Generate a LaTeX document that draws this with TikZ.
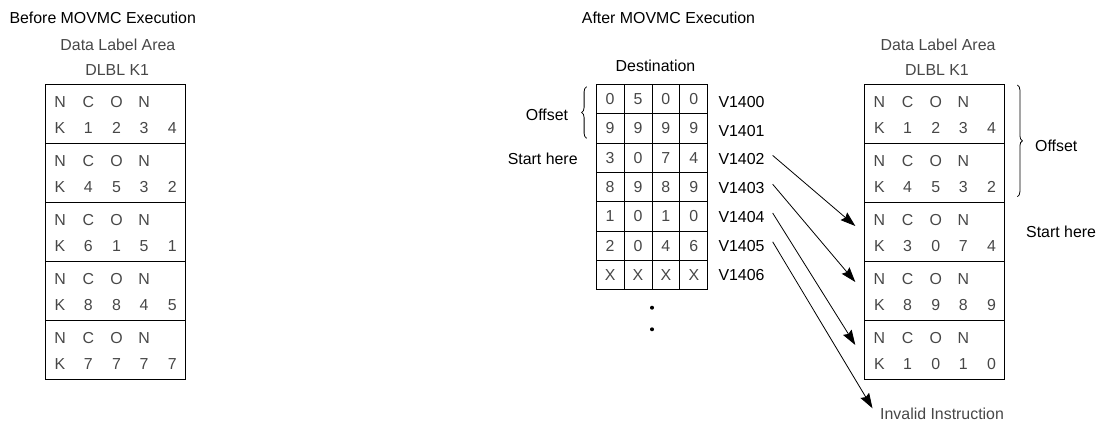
\documentclass[tikz,border=0pt]{standalone}
\usepackage{fontspec}
\setmainfont{Liberation Sans}
\usetikzlibrary{arrows.meta,decorations.pathreplacing}
\begin{document}
\begin{tikzpicture}[x=1pt,y=-1pt,
  every node/.style={inner sep=0pt, font=\fontsize{15.9}{19}\selectfont},
  lbl/.style={anchor=base, text=black},
  lblw/.style={anchor=base west, text=black},
  light/.style={anchor=base, text=black!72},
  lightw/.style={anchor=base west, text=black!72},
  blk/.style={draw, line width=1.1pt, minimum width=140pt, minimum height=59pt, anchor=north west},
  cell/.style={draw, line width=0.9pt, minimum width=27.9pt, minimum height=29.33pt, anchor=north west, text=black!72},
  arr/.style={line width=0.8pt, -{Stealth[length=15pt,width=10pt,inset=2pt]}},
  brc/.style={decorate, decoration={brace, amplitude=5pt}, line width=0.8pt}]
\useasboundingbox (0,0) rectangle (1103,421);

% titles
\node[lblw] (tbefore) at (9.3,23.5) {Before MOVMC Execution};
\node[lblw] (tafter) at (581.7,23.5) {After MOVMC Execution};

% left data label area
\node[light] (dlaL) at (117.9,50) {Data Label Area};
\node[light] (dlblL) at (117.2,75) {DLBL K1};
\foreach \i/\a/\b/\c/\d in {0/1/2/3/4, 1/4/5/3/2, 2/6/1/5/1, 3/8/8/4/5, 4/7/7/7/7} {
  \node[blk] (Lb\i) at (45,84+59*\i) {};
  \node[light] (L\i n1) at (60,84+59*\i+23.7) {N};
  \node[light] (L\i n2) at (88.3,84+59*\i+23.7) {C};
  \node[light] (L\i n3) at (116.5,84+59*\i+23.7) {O};
  \node[light] (L\i n4) at (144,84+59*\i+23.7) {N};
  \node[light] (L\i k0) at (60,84+59*\i+49.3) {K};
  \node[light] (L\i k1) at (88.3,84+59*\i+49.3) {\a};
  \node[light] (L\i k2) at (116.5,84+59*\i+49.3) {\b};
  \node[light] (L\i k3) at (144,84+59*\i+49.3) {\c};
  \node[light] (L\i k4) at (172.3,84+59*\i+49.3) {\d};
}

% right data label area
\node[light] (dlaR) at (938,50) {Data Label Area};
\node[light] (dlblR) at (937,75) {DLBL K1};
\foreach \i/\a/\b/\c/\d in {0/1/2/3/4, 1/4/5/3/2, 2/3/0/7/4, 3/8/9/8/9, 4/1/0/1/0} {
  \node[blk] (Rb\i) at (864,84+59*\i) {};
  \node[light] (R\i n1) at (879.3,84+59*\i+23.7) {N};
  \node[light] (R\i n2) at (907.6,84+59*\i+23.7) {C};
  \node[light] (R\i n3) at (935.8,84+59*\i+23.7) {O};
  \node[light] (R\i n4) at (963.3,84+59*\i+23.7) {N};
  \node[light] (R\i k0) at (879.3,84+59*\i+49.3) {K};
  \node[light] (R\i k1) at (907.6,84+59*\i+49.3) {\a};
  \node[light] (R\i k2) at (935.8,84+59*\i+49.3) {\b};
  \node[light] (R\i k3) at (963.3,84+59*\i+49.3) {\c};
  \node[light] (R\i k4) at (991.6,84+59*\i+49.3) {\d};
}

% destination table
\node[lbl] (dest) at (655.5,71.5) {Destination};
\foreach \r/\a/\b/\c/\d in {0/0/5/0/0, 1/9/9/9/9, 2/3/0/7/4, 3/8/9/8/9, 4/1/0/1/0, 5/2/0/4/6, 6/X/X/X/X} {
  \node[cell] (d\r c1) at (595.7,84+29.33*\r) {\a};
  \node[cell] (d\r c2) at (623.6,84+29.33*\r) {\b};
  \node[cell] (d\r c3) at (651.5,84+29.33*\r) {\c};
  \node[cell] (d\r c4) at (679.4,84+29.33*\r) {\d};
  \pgfmathtruncatemacro{\vn}{1400+\r}
  \node[lblw] (v\r) at (718.3,107.3+28.8*\r) {V\vn};
}
\fill (652,307.7) circle (2);
\fill (652,329.3) circle (2);

% side labels
\node[lbl] (offL) at (547,120) {Offset};
\node[lbl] (startL) at (542.7,164) {Start here};
\node[lblw] (offR) at (1035,151.5) {Offset};
\node[lblw] (startR) at (1026,237.7) {Start here};
\node[lightw] (inv) at (880,419.5) {Invalid Instruction};

% braces
\draw[brc] (586.6,138.3) -- (586.6,86.7);
\draw[brc] (1017.4,85) -- (1017.4,196.7);

% arrows
\draw[arr] ([xshift=8pt,yshift=4pt]v2.east) -- ([xshift=-24pt,yshift=-0.3pt]R2n1.base);
\draw[arr] ([xshift=8pt,yshift=4pt]v3.east) -- ([xshift=-24pt,yshift=2.7pt]R3n1.base);
\draw[arr] ([xshift=8pt,yshift=4pt]v4.east) -- ([xshift=-24pt,yshift=-1.3pt]R4n1.base);
\draw[arr] ([xshift=8pt,yshift=4pt]v5.east) -- ([xshift=-7.5pt,yshift=-0.5pt]inv.north west);
\end{tikzpicture}
\end{document}
